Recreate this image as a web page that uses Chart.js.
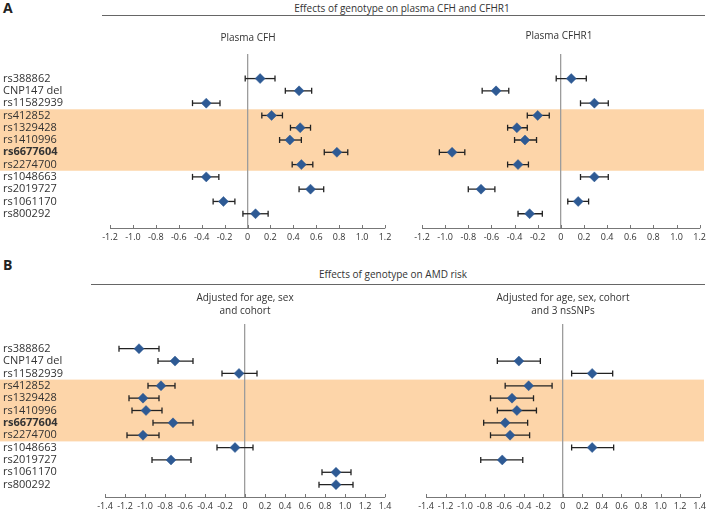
<!DOCTYPE html>
<html>
<head>
<meta charset="utf-8">
<script src="https://cdn.jsdelivr.net/npm/chart.js@4.4.1/dist/chart.umd.min.js"></script>
<style>
  html, body { margin: 0; padding: 0; background: #fff; }
  #page { position: relative; width: 710px; height: 511px; overflow: hidden; font-family: 'Open Sans', sans-serif; color: #333; }
  .box { position: absolute; }
  .txt { position: absolute; font-size: 10px; line-height: 13px; white-space: nowrap; transform: translateX(-50%); text-align: center; z-index: 2; }
  .lbl { position: absolute; font-weight: bold; font-size: 14px; line-height: 16px; color: #222; z-index: 2; }
  .rule { position: absolute; height: 1.3px; background: #666; z-index: 2; }
</style>
</head>
<body>
<div id="page">
  <div class="lbl" style="left:3px; top:0px;">A</div>
  <div class="txt" style="left:402px; top:2px;">Effects of genotype on plasma CFH and CFHR1</div>
  <div class="rule" style="left:102px; top:15px; width:603px;"></div>
  <div class="txt" style="left:248px; top:31px;">Plasma CFH</div>
  <div class="txt" style="left:559px; top:29px;">Plasma CFHR1</div>

  <div class="lbl" style="left:3px; top:257px;">B</div>
  <div class="txt" style="left:393px; top:268px;">Effects of genotype on AMD risk</div>
  <div class="rule" style="left:91px; top:284px; width:614px;"></div>
  <div class="txt" style="left:245px; top:291px;">Adjusted for age, sex<br>and cohort</div>
  <div class="txt" style="left:563px; top:291px;">Adjusted for age, sex, cohort<br>and 3 nsSNPs</div>

  <div class="box" style="left:0; top:40px;"><canvas id="aLeft" width="400" height="208"></canvas></div>
  <div class="box" style="left:400px; top:40px;"><canvas id="aRight" width="310" height="208"></canvas></div>
  <div class="box" style="left:0; top:310px;"><canvas id="bLeft" width="400" height="207"></canvas></div>
  <div class="box" style="left:400px; top:310px;"><canvas id="bRight" width="310" height="207"></canvas></div>
</div>
<script>
// rows, top to bottom
const snps = ['rs388862', 'CNP147 del', 'rs11582939', 'rs412852', 'rs1329428', 'rs1410996',
  'rs6677604', 'rs2274700', 'rs1048663', 'rs2019727', 'rs1061170', 'rs800292'];
const boldSnp = 'rs6677604';
// highlighted block: rs412852 .. rs2274700
const bandFrom = 2.5;
const bandTo = 7.5;

// A: plasma CFH
const cfhEst = [0.11, 0.45, -0.36, 0.21, 0.46, 0.37, 0.78, 0.47, -0.36, 0.55, -0.21, 0.07];
const cfhLo  = [-0.02, 0.33, -0.48, 0.125, 0.375, 0.28, 0.67, 0.39, -0.48, 0.45, -0.30, -0.04];
const cfhHi  = [0.24, 0.56, -0.24, 0.305, 0.55, 0.47, 0.875, 0.57, -0.25, 0.665, -0.11, 0.18];
// A: plasma CFHR1
const cfhr1Est = [0.09, -0.56, 0.29, -0.20, -0.38, -0.31, -0.94, -0.37, 0.29, -0.69, 0.15, -0.27];
const cfhr1Lo  = [-0.04, -0.68, 0.17, -0.29, -0.46, -0.40, -1.05, -0.46, 0.17, -0.80, 0.06, -0.37];
const cfhr1Hi  = [0.22, -0.45, 0.41, -0.10, -0.29, -0.21, -0.83, -0.28, 0.41, -0.57, 0.24, -0.16];
// B: AMD risk, adjusted for age, sex and cohort
const amdEst = [-1.06, -0.70, -0.06, -0.84, -1.02, -0.99, -0.72, -1.02, -0.10, -0.74, 0.91, 0.91];
const amdLo  = [-1.26, -0.87, -0.23, -0.97, -1.16, -1.13, -0.92, -1.18, -0.28, -0.93, 0.77, 0.74];
const amdHi  = [-0.86, -0.52, 0.12, -0.70, -0.86, -0.83, -0.52, -0.86, 0.08, -0.54, 1.06, 1.08];
// B: AMD risk, also adjusted for 3 nsSNPs
const amdSnpEst = [null, -0.45, 0.30, -0.35, -0.52, -0.47, -0.59, -0.54, 0.30, -0.62, null, null];
const amdSnpLo  = [null, -0.67, 0.09, -0.59, -0.74, -0.67, -0.81, -0.74, 0.09, -0.84, null, null];
const amdSnpHi  = [null, -0.23, 0.51, -0.11, -0.30, -0.27, -0.36, -0.34, 0.52, -0.41, null, null];

// x axis limits
const xLimA = 1.2;
const xLimB = 1.4;

const FONT = "'Open Sans', sans-serif";
const MARK = '#2e5a94';
const INK = '#222';

// orange band behind the highlighted rows
const bandPlugin = {
  id: 'band',
  beforeDraw(chart, args, opts) {
    const y = chart.scales.y;
    const top = y.getPixelForValue(bandFrom);
    const bot = y.getPixelForValue(bandTo);
    const c = chart.ctx;
    c.save();
    c.fillStyle = '#fdd5a9';
    c.fillRect(0, top, opts.right, bot - top);
    c.restore();
  }
};

// small tick marks pointing up from the x axis
const tickMarks = {
  id: 'tickMarks',
  afterDraw(chart) {
    const x = chart.scales.x;
    const c = chart.ctx;
    const b = chart.chartArea.bottom;
    c.save();
    c.strokeStyle = '#777';
    c.lineWidth = 1;
    x.ticks.forEach(t => {
      const px = Math.round(x.getPixelForValue(t.value)) + 0.5;
      c.beginPath();
      c.moveTo(px, b);
      c.lineTo(px, b - 3);
      c.stroke();
    });
    c.restore();
  }
};

function makePanel(id, est, lo, hi, xLim, yMax, pad, showLabels, bandRight) {
  const rows = snps.map((s, i) => i).filter(i => est[i] !== null);
  const whiskers = rows.map(i => ({
    data: [{ x: lo[i], y: i }, { x: hi[i], y: i }],
    showLine: true,
    borderColor: INK,
    borderWidth: 1.3,
    pointRadius: 0,
    order: 3
  }));
  const caps = {
    data: rows.flatMap(i => [{ x: lo[i], y: i }, { x: hi[i], y: i }]),
    pointStyle: 'line',
    rotation: 90,
    radius: 3,
    borderColor: INK,
    borderWidth: 1.3,
    order: 2
  };
  const points = {
    data: rows.map(i => ({ x: est[i], y: i })),
    pointStyle: 'rectRot',
    radius: 5,
    backgroundColor: MARK,
    borderColor: MARK,
    borderWidth: 0.5,
    order: 1
  };

  return new Chart(document.getElementById(id), {
    type: 'scatter',
    data: { datasets: [points, caps, ...whiskers] },
    options: {
      responsive: false,
      animation: false,
      layout: { padding: pad },
      plugins: {
        legend: { display: false },
        tooltip: { enabled: false },
        band: { right: bandRight }
      },
      scales: {
        x: {
          type: 'linear',
          min: -xLim,
          max: xLim,
          afterFit: s => { s.height = 20; },
          border: { display: true, color: '#777', width: 1 },
          grid: {
            drawTicks: false,
            lineWidth: 1.3,
            color: ctx => ctx.tick && Math.abs(ctx.tick.value) < 1e-9 ? '#9c9c9c' : 'rgba(0,0,0,0)'
          },
          ticks: {
            stepSize: 0.2,
            autoSkip: false,
            maxRotation: 0,
            padding: 4,
            color: '#333',
            font: { family: FONT, size: 9 },
            callback: v => Math.abs(v) < 1e-9 ? '0' : Number(v).toFixed(1)
          }
        },
        y: {
          type: 'linear',
          reverse: true,
          min: -2,
          max: yMax,
          display: !!showLabels,
          afterFit: s => { if (showLabels) s.width = showLabels; },
          border: { display: false },
          grid: { display: false, drawTicks: false },
          ticks: {
            stepSize: 1,
            autoSkip: false,
            crossAlign: 'far',
            padding: 0,
            color: '#333',
            font: ctx => ({
              family: FONT,
              size: 11,
              weight: ctx && ctx.tick && snps[ctx.tick.value] === boldSnp ? 'bold' : 'normal'
            }),
            callback: v => Number.isInteger(v) && snps[v] ? snps[v] : ''
          }
        }
      }
    },
    plugins: [bandPlugin, tickMarks]
  });
}

makePanel('aLeft', cfhEst, cfhLo, cfhHi, xLimA, 12.16,
  { left: 3, right: 15, top: 14, bottom: 0 }, 107, 400);
makePanel('aRight', cfhr1Est, cfhr1Lo, cfhr1Hi, xLimA, 12.16,
  { left: 22, right: 10, top: 14, bottom: 0 }, false, 304);
makePanel('bLeft', amdEst, amdLo, amdHi, xLimB, 12,
  { left: 3, right: 15, top: 14, bottom: 0 }, 102, 400);
makePanel('bRight', amdSnpEst, amdSnpLo, amdSnpHi, xLimB, 12,
  { left: 26, right: 8, top: 14, bottom: 0 }, false, 304);
</script>
</body>
</html>
